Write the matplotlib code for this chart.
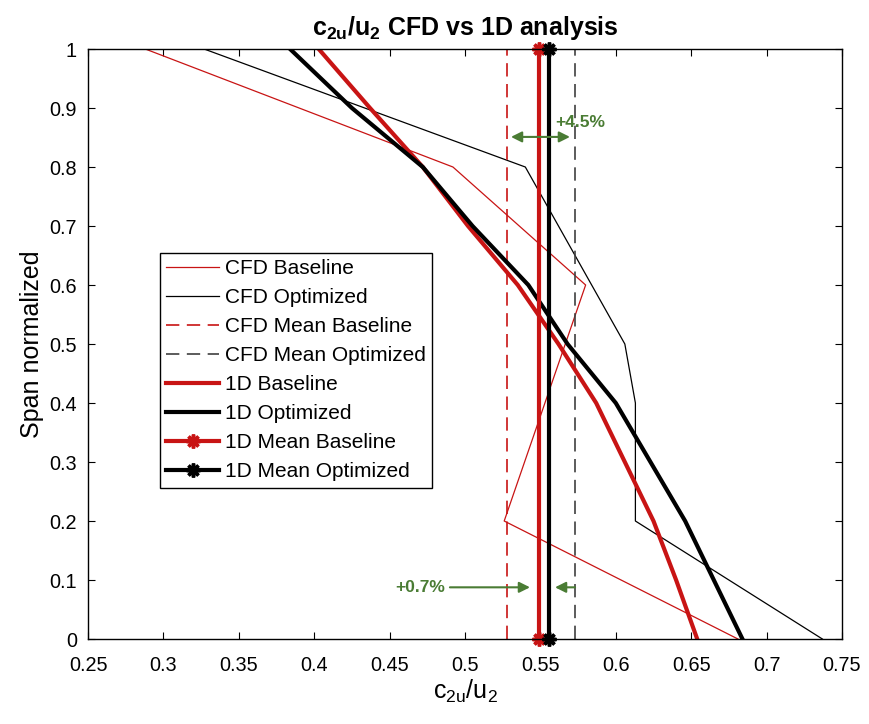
"""c2u/u2 spanwise comparison: CFD vs 1D analysis."""

import matplotlib
matplotlib.use("Agg")
import matplotlib.pyplot as plt

plt.rcParams["font.family"] = ["Liberation Sans", "DejaVu Sans"]
plt.rcParams["mathtext.fontset"] = "custom"
plt.rcParams["mathtext.rm"] = "Liberation Sans"
plt.rcParams["mathtext.it"] = "Liberation Sans"
plt.rcParams["mathtext.bf"] = "Liberation Sans:bold"

# CFD profiles (span positions differ per case)
span_cfd_base = [0.0, 0.2, 0.6, 0.8, 1.0]
cfd_base = [0.681, 0.526, 0.580, 0.492, 0.288]
span_cfd_opt = [0.0, 0.2, 0.4, 0.5, 0.8, 1.0]
cfd_opt = [0.737, 0.613, 0.613, 0.606, 0.540, 0.327]

# 1D analysis profiles
span_1d = [0.0, 0.1, 0.2, 0.3, 0.4, 0.5, 0.6, 0.7, 0.8, 0.9, 1.0]
oned_base = [0.654, 0.640, 0.625, 0.606, 0.587, 0.562, 0.535, 0.502, 0.472, 0.437, 0.403]
oned_opt = [0.684, 0.665, 0.646, 0.623, 0.600, 0.568, 0.542, 0.505, 0.472, 0.425, 0.384]

# span-averaged values
cfd_mean_base = 0.528
cfd_mean_opt = 0.573
oned_mean_base = 0.549
oned_mean_opt = 0.556
span_ends = [0.0, 1.0]

delta_cfd = "+4.5%"
delta_1d = "+0.7%"

RED = "#c81414"
GREEN = "#4a7c34"

fig = plt.figure(figsize=(8.69, 7.24), dpi=100)
ax = fig.add_axes([0.1013, 0.1174, 0.8676, 0.8149])

ax.plot(cfd_base, span_cfd_base, color=RED, lw=0.9, label="CFD Baseline")
ax.plot(cfd_opt, span_cfd_opt, color="black", lw=0.9, label="CFD Optimized")
ax.plot([cfd_mean_base] * 2, span_ends, color=RED, lw=1.2, dashes=(8, 4.5),
        label="CFD Mean Baseline")
ax.plot([cfd_mean_opt] * 2, span_ends, color="#404040", lw=1.2, dashes=(8, 4.5),
        label="CFD Mean Optimized")
ax.plot(oned_base, span_1d, color=RED, lw=3, label="1D Baseline")
ax.plot(oned_opt, span_1d, color="black", lw=3, label="1D Optimized")
ax.plot([oned_mean_base] * 2, span_ends, color=RED, lw=3, marker=(8, 2, 0),
        ms=10, mew=2.5, label="1D Mean Baseline", clip_on=False)
ax.plot([oned_mean_opt] * 2, span_ends, color="black", lw=3, marker=(8, 2, 0),
        ms=10, mew=2.5, label="1D Mean Optimized", clip_on=False)

# difference annotations
arrow = dict(arrowstyle="<|-|>", color=GREEN, lw=1.5, mutation_scale=16,
             shrinkA=0, shrinkB=0)
ax.annotate("", xy=(0.5305, 0.851), xytext=(0.5696, 0.851), arrowprops=arrow)
ax.text(0.5597, 0.875, delta_cfd, color=GREEN, fontsize=12.5, fontweight="bold",
        va="center", ha="left")
single = dict(arrowstyle="-|>", color=GREEN, lw=1.5, mutation_scale=16,
              shrinkA=0, shrinkB=0)
ax.annotate("", xy=(0.5431, 0.0876), xytext=(0.490, 0.0876), arrowprops=single)
ax.annotate("", xy=(0.5597, 0.0876), xytext=(0.573, 0.0876), arrowprops=single)
ax.text(0.4536, 0.0876, delta_1d, color=GREEN, fontsize=12.5, fontweight="bold",
        va="center", ha="left")

ax.set_xlim(0.25, 0.75)
ax.set_ylim(0, 1)
ax.set_xticks([0.25, 0.3, 0.35, 0.4, 0.45, 0.5, 0.55, 0.6, 0.65, 0.7, 0.75])
ax.set_xticklabels(["0.25", "0.3", "0.35", "0.4", "0.45", "0.5", "0.55",
                    "0.6", "0.65", "0.7", "0.75"])
ax.set_yticks([0, 0.1, 0.2, 0.3, 0.4, 0.5, 0.6, 0.7, 0.8, 0.9, 1])
ax.set_yticklabels(["0", "0.1", "0.2", "0.3", "0.4", "0.5", "0.6", "0.7",
                    "0.8", "0.9", "1"])
ax.tick_params(direction="in", length=5, width=0.8, top=True, right=True,
               labelsize=14.3)
ax.tick_params(axis="x", pad=12)
ax.tick_params(axis="y", pad=8)
for spine in ax.spines.values():
    spine.set_linewidth(1.0)

ax.set_xlabel(r"$\mathrm{c_{2u}/u_2}$", fontsize=18, labelpad=2)
ax.set_ylabel("Span normalized", fontsize=18, labelpad=4)
ax.set_title(r"$\mathbf{c_{2u}/u_2}$ CFD vs 1D analysis", fontsize=18,
             fontweight="bold", pad=10)

leg = ax.legend(loc="upper left", bbox_to_anchor=(0.0955, 0.654),
                borderaxespad=0, fontsize=15, handlelength=2.55,
                handletextpad=0.25, labelspacing=0.48, borderpad=0.3,
                fancybox=False, framealpha=1, edgecolor="black")
leg.get_frame().set_linewidth(1.0)

fig.savefig("out.png", dpi=100)
